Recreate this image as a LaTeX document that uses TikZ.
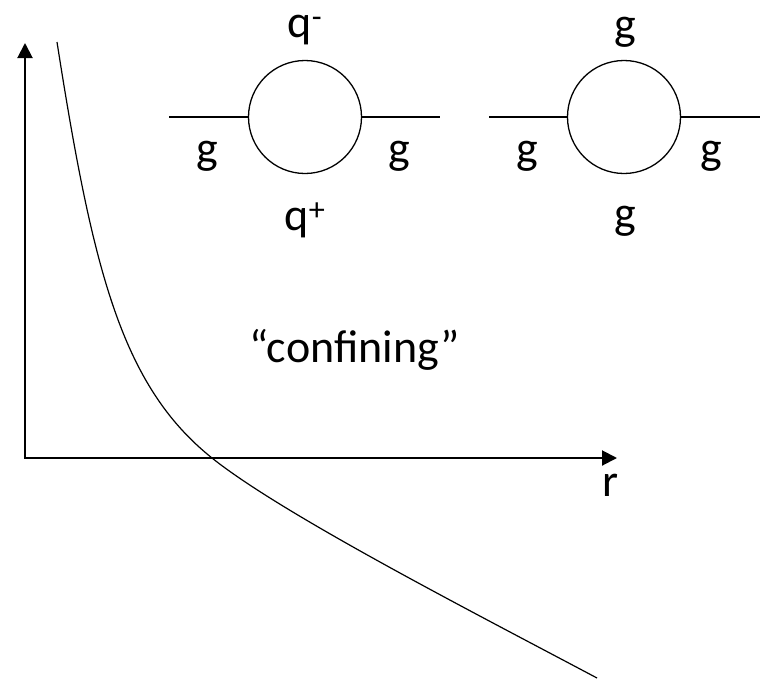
\documentclass[tikz,border=0pt]{standalone}
\usepackage{fontspec}
\setmainfont{Carlito}
\usetikzlibrary{arrows.meta,calc}
\tikzset{axis/.style={line width=2pt, {Triangle[length=15pt,width=15pt]}-{Triangle[length=15pt,width=15pt]}},
  loop/.style={draw, circle, line width=1.3pt, minimum size=113pt, inner sep=0pt},
  leg/.style={line width=1.6pt},
  lbl/.style={anchor=base, inner sep=0pt}}

\begin{document}
\begin{tikzpicture}[x=1pt, y=-1pt, font=\fontsize{46}{52}\selectfont]
  \useasboundingbox (0,0) rectangle (761,678);
  % axes
  \coordinate (o) at (25,458);
  \coordinate (ytip) at (25,43);
  \coordinate (xtip) at (617,458);
  \draw[axis] (ytip) -- (o) -- (xtip);
  \node[lbl] (r) at (611,496) {r};
  % potential
  \coordinate (vtop) at (57,42);
  \coordinate (vcut) at (212,458);
  \coordinate (vend) at (597,678);
  \draw[line width=1.2pt] (vtop) .. controls (93,272) and (122,386) .. (vcut)
    .. controls (282,514) and (467,609) .. (vend);
  \node[lbl] (conf) at (355,362) {“confining”};
  % quark loop
  \node[loop] (qq) at (305,117) {};
  \coordinate (qq-in) at (169,117);
  \coordinate (qq-out) at (440,117);
  \draw[leg] (qq-in) -- (qq.west);
  \draw[leg] (qq.east) -- (qq-out);
  \node[lbl] (qm) at (305,37) {q\textsuperscript{-}};
  \node[lbl] (qp) at (305,230) {q\textsuperscript{+}};
  \node[lbl] (qgl) at (207,163) {g};
  \node[lbl] (qgr) at (399,163) {g};
  % gluon loop
  \node[loop] (gg) at (624,117) {};
  \coordinate (gg-in) at (489,117);
  \coordinate (gg-out) at (760,117);
  \draw[leg] (gg-in) -- (gg.west);
  \draw[leg] (gg.east) -- (gg-out);
  \node[lbl] (gt) at (625,39) {g};
  \node[lbl] (gb) at (625,228) {g};
  \node[lbl] (ggl) at (527,163) {g};
  \node[lbl] (ggr) at (711,163) {g};
\end{tikzpicture}
\end{document}
